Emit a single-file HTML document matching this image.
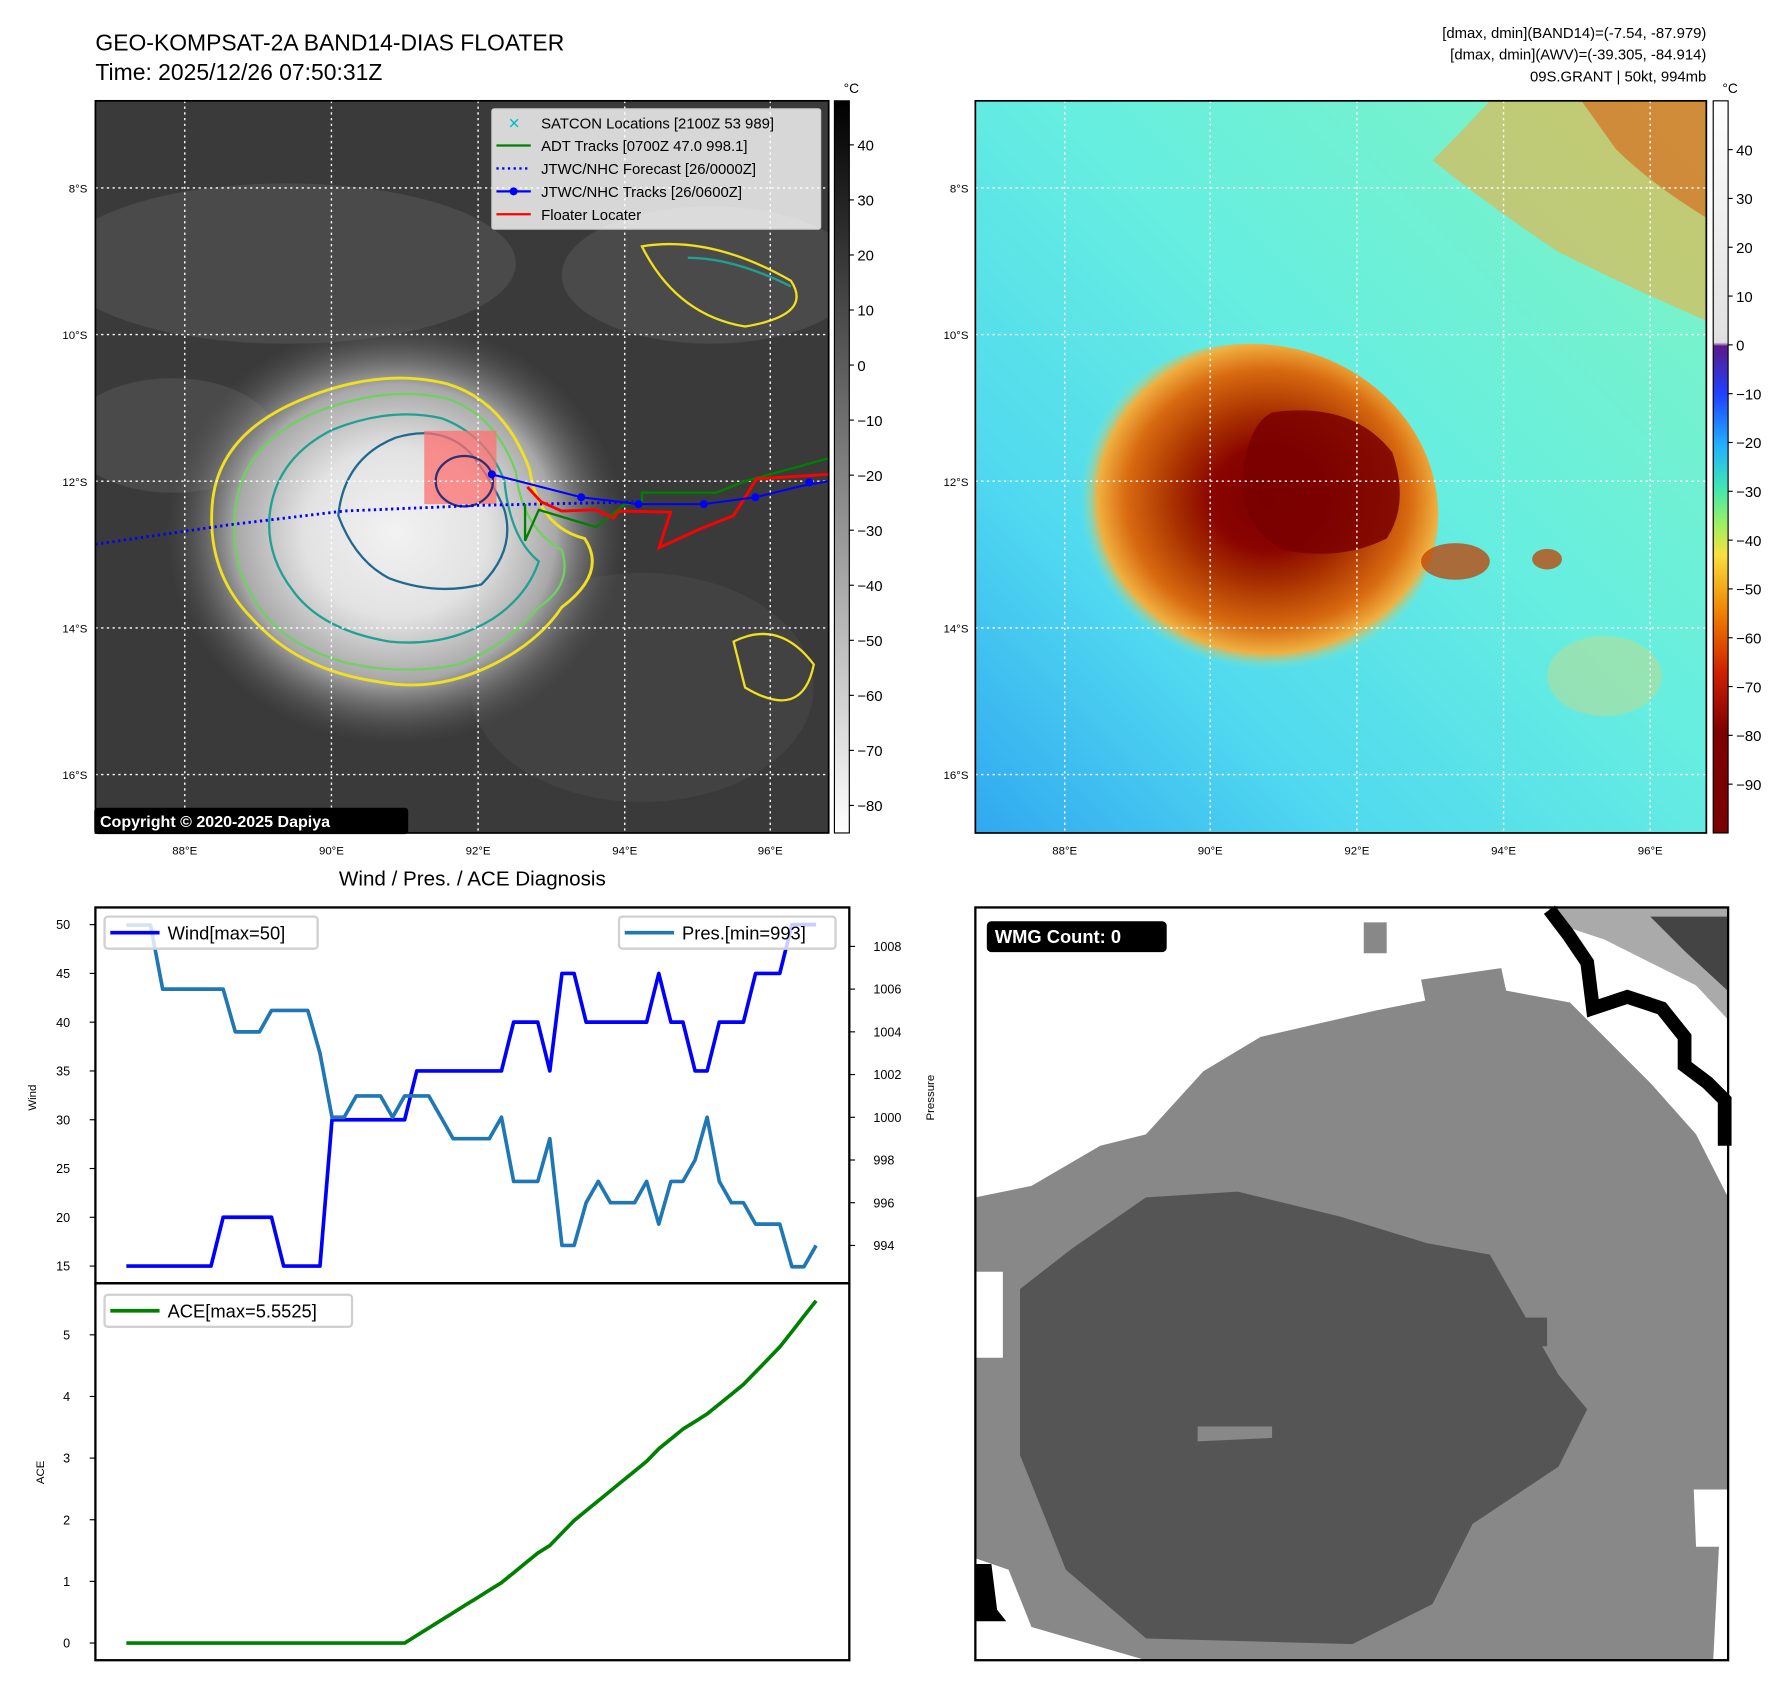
<!DOCTYPE html>
<html><head><meta charset="utf-8">
<style>
html,body{margin:0;padding:0;background:#fff;}
svg{display:block;font-family:"Liberation Sans","DejaVu Sans",sans-serif;}
</style></head>
<body>
<svg id="root" width="1788" height="1690" viewBox="0 0 1560 1475" xmlns="http://www.w3.org/2000/svg">
<defs>
  <radialGradient id="stormGray" cx="0.5" cy="0.5" r="0.5">
    <stop offset="0" stop-color="#f2f2f2"/><stop offset="0.4" stop-color="#e2e2e2"/><stop offset="0.7" stop-color="#a8a8a8"/><stop offset="1" stop-color="#5a5a5a" stop-opacity="0"/>
  </radialGradient>
  <radialGradient id="stormHot" cx="0.55" cy="0.45" r="0.5">
    <stop offset="0" stop-color="#7a0000"/><stop offset="0.3" stop-color="#8a0400"/><stop offset="0.5" stop-color="#a83000"/><stop offset="0.75" stop-color="#d86a10"/><stop offset="0.9" stop-color="#f0b040"/><stop offset="1" stop-color="#70ecd0" stop-opacity="0"/>
  </radialGradient>
  <linearGradient id="bgCyan" x1="0" y1="1" x2="1" y2="0">
    <stop offset="0" stop-color="#30a8f0"/><stop offset="0.25" stop-color="#50d8f0"/><stop offset="0.55" stop-color="#66eee0"/><stop offset="1" stop-color="#80f4c0"/>
  </linearGradient>
  <linearGradient id="cbGray" x1="0" y1="0" x2="0" y2="1">
    <stop offset="0" stop-color="#000"/><stop offset="1" stop-color="#fff"/>
  </linearGradient>
  <linearGradient id="cbColor" x1="0" y1="0" x2="0" y2="1">
    <stop offset="0" stop-color="#ffffff"/><stop offset="0.33" stop-color="#e0e0e0"/>
    <stop offset="0.335" stop-color="#5a1a8a"/><stop offset="0.40" stop-color="#2040ff"/>
    <stop offset="0.47" stop-color="#20b0ff"/><stop offset="0.53" stop-color="#40e8b0"/>
    <stop offset="0.58" stop-color="#a0f060"/><stop offset="0.62" stop-color="#f8e040"/>
    <stop offset="0.70" stop-color="#f08000"/><stop offset="0.78" stop-color="#d02000"/>
    <stop offset="0.86" stop-color="#800000"/><stop offset="1" stop-color="#7a0000"/>
  </linearGradient>
  <clipPath id="clip1"><rect x="83" y="88" width="640" height="639"/></clipPath>
  <clipPath id="clip2"><rect x="851" y="88" width="638" height="639"/></clipPath>
</defs>

<text x="83" y="44" font-size="20">GEO-KOMPSAT-2A BAND14-DIAS FLOATER</text>
<text x="83" y="70" font-size="20">Time: 2025/12/26 07:50:31Z</text>
<g font-size="13" text-anchor="end">
  <text x="1489" y="33">[dmax, dmin](BAND14)=(-7.54, -87.979)</text>
  <text x="1489" y="52">[dmax, dmin](AWV)=(-39.305, -84.914)</text>
  <text x="1489" y="71">09S.GRANT | 50kt, 994mb</text>
</g>

<g clip-path="url(#clip1)">
  <rect x="83" y="88" width="640" height="639" fill="#3a3a3a"/>
  <ellipse cx="250" cy="230" rx="200" ry="70" fill="#555" opacity="0.6"/>
  <ellipse cx="620" cy="240" rx="130" ry="60" fill="#5a5a5a" opacity="0.5"/>
  <ellipse cx="150" cy="380" rx="90" ry="50" fill="#5a5a5a" opacity="0.5"/>
  <ellipse cx="560" cy="600" rx="150" ry="100" fill="#4a4a4a" opacity="0.5"/>
  <ellipse cx="345" cy="465" rx="200" ry="185" fill="url(#stormGray)"/>
  <path d="M185,440 Q190,380 260,350 Q330,320 390,335 Q440,350 462,410 Q470,460 510,470 Q530,500 490,530 Q470,560 430,580 Q380,605 330,595 Q260,585 220,540 Q180,500 185,440z" fill="none" stroke="#f0e020" stroke-width="2.5"/>
  <path d="M205,445 Q210,390 270,362 Q335,335 390,348 Q432,362 450,412 Q455,460 490,480 Q500,510 470,530 Q440,565 400,580 Q350,590 300,578 Q240,560 220,520 Q200,490 205,445z" fill="none" stroke="#70d060" stroke-width="2"/>
  <path d="M235,450 Q240,400 290,375 Q340,355 385,365 Q425,380 440,420 Q445,470 470,490 Q460,520 430,540 Q390,565 340,560 Q280,550 255,515 Q232,485 235,450z" fill="none" stroke="#20a090" stroke-width="2"/>
  <path d="M295,450 Q300,400 345,382 Q385,370 410,395 Q430,420 440,445 Q450,480 420,510 Q380,520 340,505 Q310,490 295,450z" fill="none" stroke="#206890" stroke-width="2"/>
  <path d="M560,215 q60,-10 130,30 q20,30 -40,40 q-60,-10 -90,-70z" fill="none" stroke="#f0e020" stroke-width="2"/>
  <path d="M600,225 q40,0 90,25" fill="none" stroke="#20a090" stroke-width="2"/>
  <path d="M640,560 q40,-20 70,20 q-10,50 -60,20z" fill="none" stroke="#f0e020" stroke-width="2"/>
  <rect x="370" y="376" width="63" height="64" fill="#ff7070" opacity="0.75"/>
  <ellipse cx="405" cy="420" rx="25" ry="22" fill="none" stroke="#303070" stroke-width="2"/>
</g>
<g stroke="#fff" stroke-dasharray="2,3" stroke-width="1.2">
  <line x1="161" y1="88" x2="161" y2="727"/><line x1="289" y1="88" x2="289" y2="727"/><line x1="417" y1="88" x2="417" y2="727"/><line x1="545" y1="88" x2="545" y2="727"/><line x1="672" y1="88" x2="672" y2="727"/>
  <line x1="83" y1="164" x2="723" y2="164"/><line x1="83" y1="292" x2="723" y2="292"/><line x1="83" y1="420" x2="723" y2="420"/><line x1="83" y1="548" x2="723" y2="548"/><line x1="83" y1="676" x2="723" y2="676"/>
</g>
<g clip-path="url(#clip1)" fill="none">
  <polyline points="83,475 200,458 300,446 420,441 560,438" stroke="#0000ff" stroke-width="2.5" stroke-dasharray="2,3"/>
  <polyline points="458,440 458,472 470,445 520,460 545,440 560,438 560,430 625,430 650,420 723,400" stroke="#008000" stroke-width="2"/>
  <polyline points="460,425 472,438 490,446 520,445 535,452 540,446 585,447 575,478 610,462 640,450 660,418 723,414" stroke="#ff0000" stroke-width="2.5"/>
  <polyline points="429,414 507,434 557,440 614,440 659,434 700,424 723,420" stroke="#0000ff" stroke-width="1.8"/>
  <g fill="#0000ff"><circle cx="429" cy="414" r="3.5"/><circle cx="507" cy="434" r="3.5"/><circle cx="557" cy="440" r="3.5"/><circle cx="614" cy="440" r="3.5"/><circle cx="659" cy="434" r="3.5"/><circle cx="706" cy="421" r="3.5"/></g>
</g>
<rect x="83" y="88" width="640" height="639" fill="none" stroke="#000" stroke-width="1.5"/>
<g font-size="13">
  <rect x="429" y="95" width="287" height="105" fill="#fff" fill-opacity="0.8" stroke="#ccc" rx="2"/>
  <text x="443" y="112" fill="#00c0c0" font-size="13" font-weight="bold">✕</text><text x="472" y="112">SATCON Locations [2100Z 53 989]</text>
  <line x1="433" y1="127" x2="463" y2="127" stroke="#008000" stroke-width="2"/><text x="472" y="132">ADT Tracks [0700Z 47.0 998.1]</text>
  <line x1="433" y1="147" x2="463" y2="147" stroke="#0000ff" stroke-width="2" stroke-dasharray="2,3"/><text x="472" y="152">JTWC/NHC Forecast [26/0000Z]</text>
  <line x1="433" y1="167" x2="463" y2="167" stroke="#0000ff" stroke-width="2"/><circle cx="448" cy="167" r="3.5" fill="#0000ff"/><text x="472" y="172">JTWC/NHC Tracks [26/0600Z]</text>
  <line x1="433" y1="187" x2="463" y2="187" stroke="#ff0000" stroke-width="2"/><text x="472" y="192">Floater Locater</text>
</g>
<g>
  <rect x="82" y="705" width="274" height="23" rx="3" fill="#000"/>
  <text x="87" y="722" fill="#fff" font-size="14" font-weight="bold">Copyright © 2020-2025 Dapiya</text>
</g>
<g font-size="10" text-anchor="end">
  <text x="76" y="168">8°S</text><text x="76" y="296">10°S</text><text x="76" y="424">12°S</text><text x="76" y="552">14°S</text><text x="76" y="680">16°S</text>
</g>
<g font-size="10" text-anchor="middle">
  <text x="161" y="746">88°E</text><text x="289" y="746">90°E</text><text x="417" y="746">92°E</text><text x="545" y="746">94°E</text><text x="672" y="746">96°E</text>
</g>
<g font-size="13">
  <rect x="728" y="88" width="13" height="639" fill="url(#cbGray)" stroke="#000" stroke-width="1"/>
  <text x="736" y="81" font-size="12">°C</text>
  <g id="cb1labels" text-anchor="start"></g>
</g>

<g clip-path="url(#clip2)">
  <rect x="851" y="88" width="638" height="639" fill="url(#bgCyan)"/>
  <path d="M1300,88 L1489,88 L1489,280 Q1420,250 1360,220 Q1300,180 1250,140 Q1280,110 1300,88z" fill="#f0b040" opacity="0.6"/>
  <path d="M1380,88 L1489,88 L1489,190 Q1440,160 1410,130z" fill="#d86010" opacity="0.6"/>
  <ellipse cx="1090" cy="450" rx="165" ry="150" fill="url(#stormHot)"/>
  <path d="M1110,360 Q1180,350 1215,395 Q1230,440 1210,470 Q1170,490 1120,480 Q1080,460 1085,410 Q1090,370 1110,360z" fill="#7a0000" opacity="0.85"/>
  <ellipse cx="1270" cy="490" rx="30" ry="16" fill="#c04000" opacity="0.75"/>
  <ellipse cx="1350" cy="488" rx="13" ry="9" fill="#c04000" opacity="0.75"/>
  <ellipse cx="1400" cy="590" rx="50" ry="35" fill="#f0d060" opacity="0.35"/>
</g>
<g stroke="#fff" stroke-dasharray="2,3" stroke-width="1.2">
  <line x1="929" y1="88" x2="929" y2="727"/><line x1="1056" y1="88" x2="1056" y2="727"/><line x1="1184" y1="88" x2="1184" y2="727"/><line x1="1312" y1="88" x2="1312" y2="727"/><line x1="1440" y1="88" x2="1440" y2="727"/>
  <line x1="851" y1="164" x2="1489" y2="164"/><line x1="851" y1="292" x2="1489" y2="292"/><line x1="851" y1="420" x2="1489" y2="420"/><line x1="851" y1="548" x2="1489" y2="548"/><line x1="851" y1="676" x2="1489" y2="676"/>
</g>
<rect x="851" y="88" width="638" height="639" fill="none" stroke="#000" stroke-width="1.5"/>
<g font-size="10" text-anchor="end">
  <text x="845" y="168">8°S</text><text x="845" y="296">10°S</text><text x="845" y="424">12°S</text><text x="845" y="552">14°S</text><text x="845" y="680">16°S</text>
</g>
<g font-size="10" text-anchor="middle">
  <text x="929" y="746">88°E</text><text x="1056" y="746">90°E</text><text x="1184" y="746">92°E</text><text x="1312" y="746">94°E</text><text x="1440" y="746">96°E</text>
</g>
<g font-size="13">
  <rect x="1495" y="88" width="13" height="639" fill="url(#cbColor)" stroke="#000" stroke-width="1"/>
  <text x="1503" y="81" font-size="12">°C</text>
  <g id="cb2labels"></g>
</g>

<text x="412" y="773" font-size="18" text-anchor="middle">Wind / Pres. / ACE Diagnosis</text>
<g id="chart"></g>

<g>
  <rect x="851" y="792" width="657" height="657" fill="#fff"/>
  <path d="M851,1045 L900,1035 L960,1000 L1000,990 L1050,935 L1100,905 L1200,882 L1300,862 L1370,875 L1440,945 L1480,990 L1508,1045 L1508,1300 L1478,1300 L1480,1350 L1500,1350 L1495,1449 L1000,1449 L900,1420 L880,1370 L851,1360 L851,1185 L875,1185 L875,1110 L851,1110z" fill="#888"/>
  <path d="M1190,805 L1210,805 L1210,832 L1190,832z M1240,855 L1310,845 L1315,868 L1245,880z" fill="#888"/>
  <path d="M890,1125 L935,1090 L1000,1045 L1080,1040 L1170,1062 L1245,1085 L1300,1095 L1360,1200 L1385,1230 L1360,1280 L1285,1330 L1250,1400 L1180,1435 L1000,1430 L930,1370 L890,1270z" fill="#555"/>
  <path d="M1318,1150 L1350,1150 L1350,1175 L1318,1175z" fill="#555"/>
  <path d="M1045,1245 L1110,1245 L1110,1255 L1045,1258z" fill="#888"/>
  <path d="M1350,792 L1508,792 L1508,890 L1480,860 L1440,840 L1400,820 L1370,810z" fill="#aaa"/>
  <path d="M1440,800 L1508,800 L1508,865 L1470,830z" fill="#444"/>
  <polyline points="1352,794 1368,815 1385,840 1390,880 1420,870 1450,880 1470,905 1470,930 1490,945 1505,960 1505,1000" fill="none" stroke="#000" stroke-width="12" stroke-linejoin="miter"/>
  <path d="M851,1365 L865,1365 L870,1405 L878,1415 L851,1415z" fill="#000"/>
  <rect x="851" y="792" width="657" height="657" fill="none" stroke="#000" stroke-width="2"/>
  <rect x="861" y="804" width="157" height="27" rx="4" fill="#000"/>
  <text x="868" y="823" fill="#fff" font-size="16" font-weight="bold">WMG Count: 0</text>
</g>

<script>
const windValues=[15,15,15,15,15,15,15,15,20,20,20,20,20,15,15,15,15,30,30,30,30,30,30,30,35,35,35,35,35,35,35,35,40,40,40,35,45,45,40,40,40,40,40,40,45,40,40,35,35,40,40,40,45,45,45,50,50,50];
const presValues=[1009,1009,1009,1006,1006,1006,1006,1006,1006,1004,1004,1004,1005,1005,1005,1005,1003,1000,1000,1001,1001,1001,1000,1001,1001,1001,1000,999,999,999,999,1000,997,997,997,999,994,994,996,997,996,996,996,997,995,997,997,998,1000,997,996,996,995,995,995,993,993,994];
const aceValues=[0,0,0,0,0,0,0,0,0,0,0,0,0,0,0,0,0,0,0,0,0,0,0,0,0.1225,0.245,0.3675,0.49,0.6125,0.735,0.8575,0.98,1.14,1.3,1.46,1.5825,1.785,1.9875,2.1475,2.3075,2.4675,2.6275,2.7875,2.9475,3.15,3.31,3.47,3.5925,3.715,3.875,4.035,4.195,4.3975,4.6,4.8025,5.0525,5.3025,5.5525];
const windTicks=[15,20,25,30,35,40,45,50];
const presTicks=[994,996,998,1000,1002,1004,1006,1008];
const aceTicks=[0,1,2,3,4,5];
const cbGrayTicks=[40,30,20,10,0,-10,-20,-30,-40,-50,-60,-70,-80];
const cbColorTicks=[40,30,20,10,0,-10,-20,-30,-40,-50,-60,-70,-80,-90];

const NS="http://www.w3.org/2000/svg";
function mk(tag,attrs,parent){const e=document.createElementNS(NS,tag);for(const k in attrs)e.setAttribute(k,attrs[k]);parent.appendChild(e);return e;}
const xScale=i=>110+(712-110)*i/(windValues.length-1);
const yWind=v=>1105-(v-15)*(1105-807)/35;
const yPres=v=>1087-(v-994)*(1087-826)/14;
const yAce=v=>1434-v*(1434-1165)/5;

const cb1=document.getElementById('cb1labels');
cbGrayTicks.forEach(t=>{const y=88+(48-t)*(639/(48+85));
  mk('line',{x1:741,y1:y,x2:745,y2:y,stroke:'#000'},cb1);
  const tx=mk('text',{x:748,y:y+5},cb1);tx.textContent=(t<0?'\u2212'+(-t):t);
  
  });
const cb2=document.getElementById('cb2labels');
cbColorTicks.forEach(t=>{const y=88+(50-t)*(639/150);
  mk('line',{x1:1508,y1:y,x2:1512,y2:y,stroke:'#000'},cb2);
  const tx=mk('text',{x:1515,y:y+5},cb2);tx.textContent=(t<0?'\u2212'+(-t):t);
  
  });

const ch=document.getElementById('chart');
mk('rect',{x:83,y:792,width:658,height:328,fill:'#fff'},ch);
mk('rect',{x:83,y:1120,width:658,height:329,fill:'#fff'},ch);
windTicks.forEach(t=>{const y=yWind(t);mk('line',{x1:78,y1:y,x2:83,y2:y,stroke:'#000'},ch);
  const tx=mk('text',{x:61,y:y+4,'font-size':11,'text-anchor':'end'},ch);tx.textContent=t;
  
  });
presTicks.forEach(t=>{const y=yPres(t);mk('line',{x1:741,y1:y,x2:746,y2:y,stroke:'#000'},ch);
  const tx=mk('text',{x:762,y:y+4,'font-size':11},ch);tx.textContent=t;
  
  });
aceTicks.forEach(t=>{const y=yAce(t);mk('line',{x1:78,y1:y,x2:83,y2:y,stroke:'#000'},ch);
  const tx=mk('text',{x:61,y:y+4,'font-size':11,'text-anchor':'end'},ch);tx.textContent=t;
  
  });
let yl=mk('text',{x:31,y:958,'font-size':10,'text-anchor':'middle',transform:'rotate(-90 31 958)'},ch);yl.textContent='Wind';


yl=mk('text',{x:815,y:958,'font-size':10,'text-anchor':'middle',transform:'rotate(-90 815 958)'},ch);yl.textContent='Pressure';


yl=mk('text',{x:38,y:1285,'font-size':10,'text-anchor':'middle',transform:'rotate(-90 38 1285)'},ch);yl.textContent='ACE';



const pts=(arr,f)=>arr.map((v,i)=>xScale(i).toFixed(1)+','+f(v).toFixed(1)).join(' ');
let l=mk('polyline',{points:pts(windValues,yWind),fill:'none',stroke:'#0000ff','stroke-width':3.2,'stroke-linejoin':'round'},ch);


l=mk('polyline',{points:pts(presValues,yPres),fill:'none',stroke:'#1f77b4','stroke-width':3.2,'stroke-linejoin':'round'},ch);


l=mk('polyline',{points:pts(aceValues,yAce),fill:'none',stroke:'#008000','stroke-width':3.2,'stroke-linejoin':'round'},ch);



mk('rect',{x:83,y:792,width:658,height:328,fill:'none',stroke:'#000','stroke-width':2},ch);
mk('rect',{x:83,y:1120,width:658,height:329,fill:'none',stroke:'#000','stroke-width':2},ch);

function legend(x,y,w,color,label,name){
  const g=mk('g',{},ch);
  
  
  mk('rect',{x:x,y:y,width:w,height:28,rx:3,fill:'#fff','fill-opacity':0.8,stroke:'#d0d0d0','stroke-width':2},g);
  mk('line',{x1:x+5,y1:y+14,x2:x+48,y2:y+14,stroke:color,'stroke-width':3.2},g);
  const t=mk('text',{x:x+55,y:y+20,'font-size':16},g);t.textContent=label;
}
legend(91,800,186,'#0000ff','Wind[max=50]','wind-legend');
legend(540,800,189,'#1f77b4','Pres.[min=993]','pressure-legend');
legend(91,1130,216,'#008000','ACE[max=5.5525]','ace-legend');
</script>
</svg>
</body></html>
